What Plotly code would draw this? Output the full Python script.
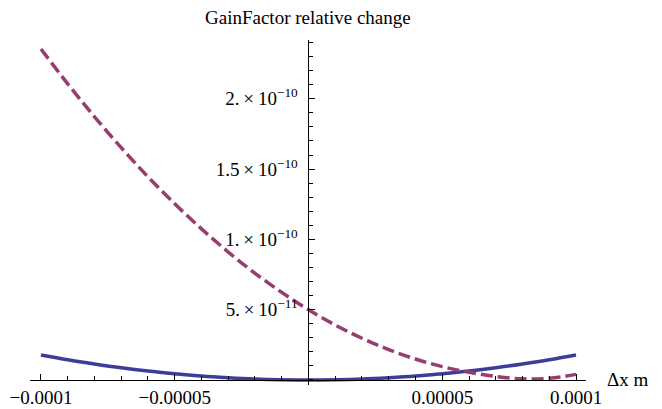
import plotly.graph_objects as go

# data (x in metres, y relative change)
x_vals = [-1.0e-4, -0.9e-4, -0.8e-4, -0.7e-4, -0.6e-4, -0.5e-4, -0.4e-4, -0.3e-4, -0.2e-4, -0.1e-4, 0.0,
          0.1e-4, 0.2e-4, 0.3e-4, 0.4e-4, 0.5e-4, 0.6e-4, 0.7e-4, 0.8e-4, 0.9e-4, 1.0e-4]
solid_vals = [1.78e-11, 1.44e-11, 1.14e-11, 0.87e-11, 0.64e-11, 0.45e-11, 0.28e-11, 0.16e-11, 0.07e-11, 0.02e-11, 0.0,
              0.02e-11, 0.07e-11, 0.16e-11, 0.28e-11, 0.45e-11, 0.64e-11, 0.87e-11, 1.14e-11, 1.44e-11, 1.78e-11]
dashed_vals = [23.54e-11, 21.06e-11, 18.72e-11, 16.52e-11, 14.45e-11, 12.53e-11, 10.75e-11, 9.10e-11, 7.59e-11, 6.23e-11, 5.0e-11,
               3.91e-11, 2.97e-11, 2.16e-11, 1.49e-11, 0.95e-11, 0.55e-11, 0.25e-11, 0.08e-11, 0.12e-11, 0.40e-11]

x_tick_vals = [-1e-4, -5e-5, 5e-5, 1e-4]
x_tick_text = ["\u22120.0001", "\u22120.00005", "0.00005", "0.0001"]
y_tick_vals = [5e-11, 1e-10, 1.5e-10, 2e-10]
y_tick_text = ["5.\u2009\u00d7\u200910<sup>\u221211</sup>", "1.\u2009\u00d7\u200910<sup>\u221210</sup>",
               "1.5\u2009\u00d7\u200910<sup>\u221210</sup>", "2.\u2009\u00d7\u200910<sup>\u221210</sup>"]

title_text = "GainFactor relative change"
xlabel_text = "\u0394x m"

xmin, xmax = -1.0411e-4, 1.0374e-4
ymin, ymax = -0.356e-11, 24.18e-11

font = dict(family="'Liberation Serif', 'Times New Roman', Times, serif", size=19, color="black")

fig = go.Figure()
fig.add_trace(go.Scatter(x=x_vals, y=solid_vals, mode="lines", line_shape="spline",
                         line=dict(color="#3d3d99", width=3.5), showlegend=False))
fig.add_trace(go.Scatter(x=x_vals, y=dashed_vals, mode="lines", line_shape="spline",
                         line=dict(color="#993d71", width=3.5, dash="12px,5px"), showlegend=False))

xpos = (0 - ymin) / (ymax - ymin)
ypos = (0 - xmin) / (xmax - xmin)

fig.update_layout(
    width=662, height=409,
    margin=dict(l=30, r=76, t=40, b=24),
    paper_bgcolor="white", plot_bgcolor="white",
    font=font,
    xaxis=dict(range=[xmin, xmax], domain=[0, 1], anchor="free", position=xpos,
               showgrid=False, zeroline=False, showline=True, linecolor="black", linewidth=1,
               ticks="inside", ticklen=6, tickwidth=1, tickcolor="black",
               tickvals=x_tick_vals, ticktext=x_tick_text, tickfont=font, ticklabelstandoff=0,
               minor=dict(ticks="inside", ticklen=4, tickcolor="black", dtick=1e-5, tick0=0, showgrid=False),
               automargin=False, fixedrange=True),
    yaxis=dict(range=[ymin, ymax], domain=[0, 1], anchor="free", position=ypos,
               showgrid=False, zeroline=False, showline=True, linecolor="black", linewidth=1,
               ticks="inside", ticklen=6, tickwidth=1, tickcolor="black",
               tickvals=y_tick_vals, ticktext=y_tick_text, tickfont=font, ticklabelstandoff=7,
               minor=dict(ticks="inside", ticklen=4, tickcolor="black", dtick=1e-11, tick0=0, showgrid=False),
               automargin=False, fixedrange=True),
    annotations=[
        dict(x=0, y=1, xref="x", yref="paper", yshift=10, text=title_text, showarrow=False,
             xanchor="center", yanchor="bottom", font=font),
        dict(x=1, y=0, xref="paper", yref="y", xshift=19, text=xlabel_text, showarrow=False,
             xanchor="left", yanchor="middle", font=font),
    ],
)

fig.write_html("out.html", config={"displayModeBar": False, "staticPlot": True},
               post_script="document.body.style.margin='0';document.body.style.overflow='hidden';")
